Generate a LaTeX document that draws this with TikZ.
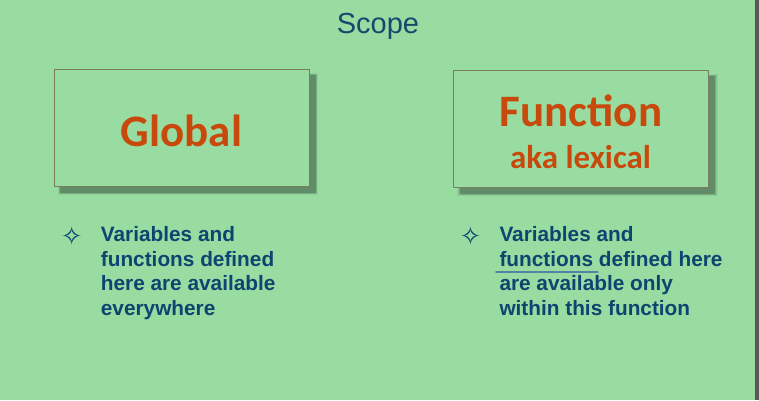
\documentclass[tikz,border=0pt]{standalone}
\usepackage{fontspec}
\setmainfont{Liberation Sans}
\newfontfamily\calfont{Carlito}
\newfontfamily\symfont{DejaVu Sans}
\definecolor{slidebg}{HTML}{99DCA1}
\definecolor{boxedge}{HTML}{7A7D62}
\definecolor{shadowc}{HTML}{5E8966}
\definecolor{titlec}{HTML}{17496D}
\definecolor{bodyc}{HTML}{0E4470}
\definecolor{headc}{HTML}{C8490C}
\definecolor{markc}{HTML}{5283A3}
\definecolor{edgestrip}{HTML}{585858}
\tikzset{
  panel/.style={draw=boxedge, line width=0.9pt, fill=slidebg, minimum width=255pt, minimum height=117pt, inner sep=0pt},
  headline/.style={text=headc, inner sep=0pt, anchor=base, font=\calfont\bfseries\fontsize{45}{54}\selectfont},
  subline/.style={text=headc, inner sep=0pt, anchor=base, font=\calfont\bfseries\fontsize{33}{40}\selectfont},
  bodytext/.style={text=bodyc, inner sep=0pt, anchor=north west, align=left, font=\bfseries\fontsize{20.8}{24.5}\selectfont},
  bulletmark/.style={text=bodyc, inner sep=0pt, font=\symfont\fontsize{26}{30}\selectfont},
}
\newcommand{\panelshadow}[1]{%
  \foreach \g/\o in {3/0.15,2/0.2,1/0.3,0/0.9}{
    \fill[shadowc, opacity=\o]
      ([xshift=6.5pt-\g*0.7pt, yshift=-6.5pt+\g*0.7pt]#1.north west) rectangle
      ([xshift=6.5pt+\g*0.7pt, yshift=-6.5pt-\g*0.7pt]#1.south east);
  }%
}
\begin{document}
\begin{tikzpicture}[x=1pt, y=-1pt]
  % slide background and right border strip
  \fill[slidebg] (0,0) rectangle (759,400);
  \useasboundingbox (0,0) rectangle (759,400);
  \fill[edgestrip] (755,0) rectangle (759,400);

  % title
  \node[text=titlec, inner sep=0pt, anchor=base, font=\fontsize{29}{34}\selectfont] (title) at (378,33.5) {Scope};

  % panels: shadows first, then boxes on top
  \path (181.5,127.5) node[panel, draw=none, fill=none] (globalbg) {};
  \path (581,128.5) node[panel, draw=none, fill=none] (funcbg) {};
  \panelshadow{globalbg}
  \panelshadow{funcbg}
  \node[panel] (global) at (181.5,127.5) {};
  \node[panel] (func) at (581,128.5) {};

  \node[headline] (globaltxt) at (181.5,146.5) {Global};
  \node[headline] (functxt) at (581,126) {Function};
  \node[subline] (akatxt) at (580.5,168) {aka lexical};

  % bullet points
  \node[bulletmark] (b1) at (71.7,235.5) {✧};
  \node[bulletmark] (b2) at (470.5,235.5) {✧};
  \node[bodytext] (left) at (100.7,226.7) {Variables and\\functions defined\\here are available\\everywhere};
  \node[bodytext] (right) at (499.3,226.7) {Variables and\\functions defined here\\are available only\\within this function};

  % underline beneath "functions"
  \coordinate (ula) at (496,272.3);
  \coordinate (ulb) at (597.5,272.3);
  \draw[markc, line width=2pt, line cap=round] (ula) -- (ulb);
\end{tikzpicture}
\end{document}
